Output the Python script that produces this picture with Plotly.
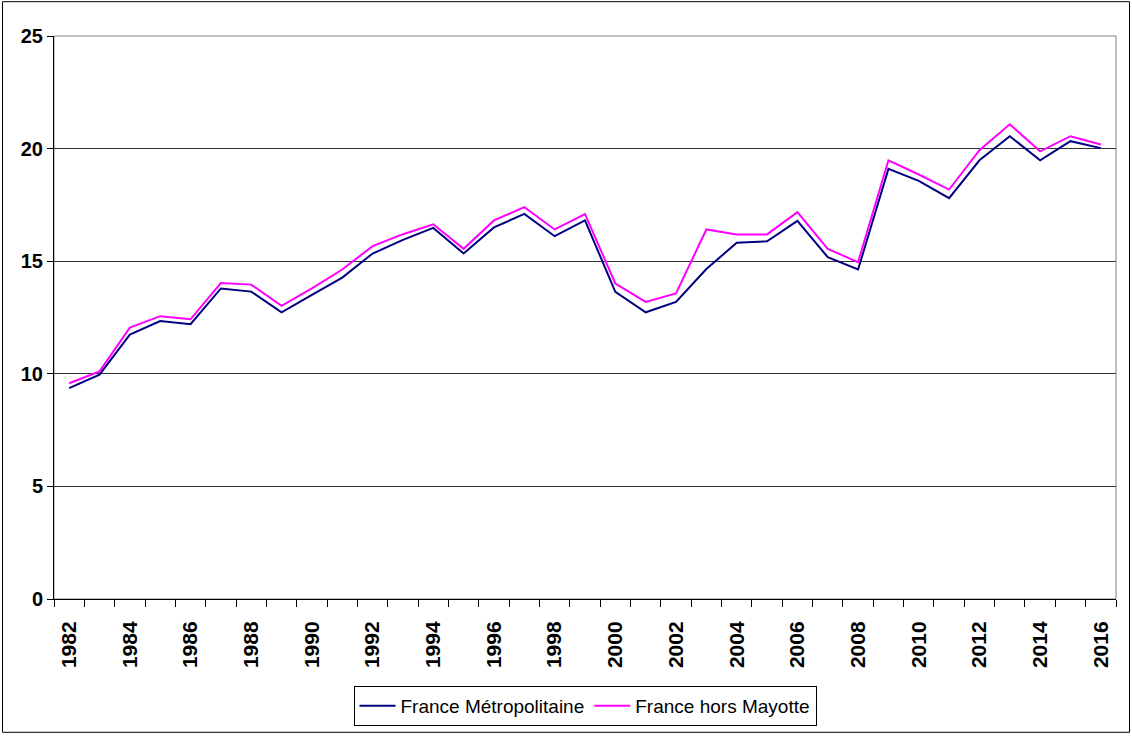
import plotly.graph_objects as go

years = list(range(1982, 2017))
france_metro = [9.36, 9.96, 11.74, 12.34, 12.20, 13.79, 13.65, 12.73, 13.50, 14.27,
                15.34, 15.95, 16.48, 15.34, 16.50, 17.10, 16.11, 16.81, 13.64, 12.73,
                13.19, 14.65, 15.82, 15.88, 16.79, 15.18, 14.63, 19.10, 18.57, 17.80,
                19.48, 20.55, 19.48, 20.33, 20.02]
france_hors_mayotte = [9.58, 10.11, 12.05, 12.56, 12.42, 14.03, 13.96, 13.02, 13.79, 14.63,
                       15.67, 16.20, 16.64, 15.55, 16.81, 17.40, 16.41, 17.09, 14.01, 13.19,
                       13.57, 16.41, 16.19, 16.19, 17.18, 15.55, 14.96, 19.48, 18.85, 18.18,
                       19.93, 21.08, 19.88, 20.55, 20.18]
label_years = years[::2]
ytick_vals = [0, 5, 10, 15, 20, 25]

FONT = "Liberation Sans, Arial, sans-serif"

fig = go.Figure()
fig.add_trace(go.Scatter(x=years, y=france_metro, mode="lines", name="France Métropolitaine",
                         line=dict(color="#000080", width=2)))
fig.add_trace(go.Scatter(x=years, y=france_hors_mayotte, mode="lines", name="France hors Mayotte",
                         line=dict(color="#FF00FF", width=2)))

W, H = 1132, 738
L, R, T, B = 54, 16, 36, 136
pw, ph = W - L - R, H - T - B

def px_x(p):
    return (p - L) / pw

def px_y(p):
    return (H - B - p) / ph

fig.update_layout(
    width=W, height=H,
    margin=dict(l=L, r=R, t=T, b=B, pad=0),
    paper_bgcolor="white", plot_bgcolor="white",
    font=dict(family=FONT, color="black"),
    showlegend=True,
    legend=dict(orientation="h", x=px_x(585), xanchor="center", y=px_y(709.5), yanchor="middle",
                bordercolor="black", borderwidth=1, bgcolor="white",
                font=dict(size=19, family=FONT),
                itemwidth=36, tracegroupgap=0),
    xaxis=dict(range=[1981.5, 2016.5], tickmode="array", tickvals=label_years,
               ticktext=[str(y) for y in label_years], tickangle=-90,
               ticks="outside", ticklen=13, tickcolor="rgba(0,0,0,0)",
               showgrid=False, zeroline=False,
               showline=True, linecolor="black", linewidth=1,
               tickfont=dict(size=21, family=FONT, weight="bold"),
               minor=dict(tickmode="linear", tick0=1981.5, dtick=1, ticks="outside",
                          ticklen=7, tickcolor="black", tickwidth=1, showgrid=False)),
    yaxis=dict(range=[0, 25], tickmode="array", tickvals=ytick_vals,
               ticks="outside", ticklen=6, tickcolor="black",
               showgrid=True, gridcolor="#333333", gridwidth=1, zeroline=False,
               showline=True, linecolor="black", linewidth=1,
               tickfont=dict(size=20, family=FONT, weight="bold")),
)

# plot-area border (right/top) in grey and outer chart frame
fig.add_shape(type="rect", xref="paper", yref="paper", x0=0, x1=1, y0=0, y1=1,
              line=dict(color="#808080", width=1), layer="below")
fig.add_shape(type="rect", xref="paper", yref="paper",
              x0=px_x(2.5), x1=px_x(1129.5), y0=px_y(1.5), y1=px_y(736),
              line=dict(color="black", width=1))

fig.write_html("out.html", config={"displayModeBar": False},
               post_script="document.body.style.margin='0';")
